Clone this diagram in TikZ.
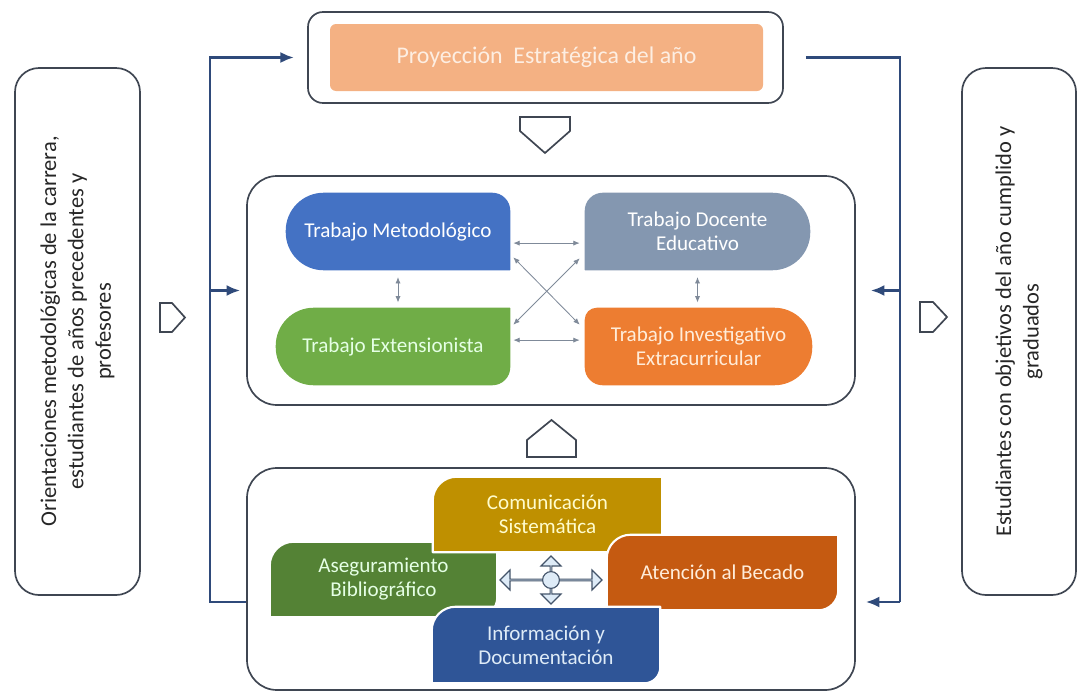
\documentclass[tikz,border=0pt]{standalone}
\usepackage{fontspec}
\setmainfont{Carlito}
\usetikzlibrary{shapes, arrows, arrows.meta, positioning, backgrounds, calc}

\definecolor{framegray}{HTML}{3F4652}
\definecolor{navy}{HTML}{2F4A7A}
\definecolor{linkgray}{HTML}{7F8A99}
\definecolor{proyfill}{HTML}{F4B183}
\definecolor{proytext}{HTML}{FDEEE2}
\definecolor{metblue}{HTML}{4472C4}
\definecolor{docgray}{HTML}{8497B0}
\definecolor{extgreen}{HTML}{70AD47}
\definecolor{invorange}{HTML}{ED7D31}
\definecolor{comgold}{HTML}{BF9000}
\definecolor{asegreen}{HTML}{548235}
\definecolor{ateorange}{HTML}{C55A11}
\definecolor{infblue}{HTML}{2F5597}
\definecolor{hubline}{HTML}{44546A}
\definecolor{hubfill}{HTML}{DEEBF7}

% blob: node, radius top left, top right, bottom right, bottom left, style
\newcommand{\blob}[6]{%
  \path[#6] ([xshift=#2]#1.north west) -- ([xshift=-#3]#1.north east)
    arc[start angle=90, end angle=0, radius=#3]
    -- ([yshift=#4]#1.south east)
    arc[start angle=0, end angle=-90, radius=#4]
    -- ([xshift=#5]#1.south west)
    arc[start angle=270, end angle=180, radius=#5]
    -- ([yshift=-#2]#1.north west)
    arc[start angle=180, end angle=90, radius=#2] -- cycle;}

\tikzset{
  frame/.style={draw=framegray, line width=1.2pt, rounded corners=0.75cm},
  sidebox/.style={draw=framegray, line width=1.2pt, rounded corners=0.6cm,
    rotate=90, align=center, text=black!85, font=\fontsize{16}{19.5}\selectfont},
  blobtext/.style={align=center, inner sep=0pt, font=\fontsize{15}{17}\selectfont},
  fb/.style={draw=navy, line width=2pt},
  link/.style={draw=linkgray, line width=0.6pt, {Latex[length=1.6mm, width=1.3mm]}-{Latex[length=1.6mm, width=1.3mm]}},
  pent/.style={draw=framegray, line width=1.2pt, fill=white, line join=miter},
  cross/.style={double arrow, draw=hubline, fill=hubfill, line width=0.8pt,
    inner sep=0pt, minimum width=0.5cm, double arrow head extend=0.15cm},
}

\begin{document}
\begin{tikzpicture}[>={Latex[length=3.4mm, width=2.8mm]}]

    \useasboundingbox (0,0) rectangle (26.975,-17.375);

    \node[frame, rounded corners=0.375cm, minimum width=11.875cm, minimum height=2.275cm] at (13.6375,-1.4375) (topbox) {};
    \node[fill=proyfill, rounded corners=0.15cm, minimum width=10.825cm, minimum height=1.675cm,
      text=proytext, font=\fontsize{17}{20}\selectfont] at (13.6625,-1.4375) (proy) {Proyección\ \ Estratégica del año};

    \node[frame, minimum width=15.2cm, minimum height=5.725cm] at (13.775,-7.2625) (midbox) {};
    \node[frame, minimum width=15.2cm, minimum height=5.55cm] at (13.775,-14.475) (lowbox) {};

    \node[sidebox, minimum width=13.175cm, minimum height=3.125cm] at (1.9375,-8.2875) (inputs)
      {Orientaciones metodológicas de la carrera,\\ estudiantes de años precedentes y\\ profesores};
    \node[sidebox, minimum width=13.175cm, minimum height=2.85cm] at (25.475,-8.2875) (outputs)
      {Estudiantes con objetivos del año cumplido y\\ graduados};

    % pentagon arrows
    \draw[pent] (13,-2.925) -- (14.25,-2.925) -- (14.25,-3.275) -- (13.625,-3.825) -- (13,-3.275) -- cycle;
    \draw[pent] (13.175,-11.425) -- (14.4,-11.425) -- (14.4,-11) -- (13.7875,-10.5) -- (13.175,-11) -- cycle;
    \draw[pent] (4,-7.575) -- (4.3,-7.575) -- (4.625,-7.9375) -- (4.3,-8.3) -- (4,-8.3) -- cycle;
    \draw[pent] (23,-7.55) -- (23.325,-7.55) -- (23.675,-7.925) -- (23.325,-8.3) -- (23,-8.3) -- cycle;

    \node[blobtext, text=white, minimum width=5.6cm, minimum height=1.925cm] at (9.95,-5.7875) (met) {Trabajo Metodológico};
    \node[blobtext, text=white, minimum width=5.625cm, minimum height=1.925cm] at (17.4375,-5.7875) (doc) {Trabajo Docente\\ Educativo};
    \node[blobtext, text=green!10, minimum width=5.85cm, minimum height=1.925cm] at (9.825,-8.6625) (ext) {Trabajo Extensionista};
    \node[blobtext, text=orange!15, minimum width=5.675cm, minimum height=1.925cm] at (17.4625,-8.6625) (inv) {Trabajo Investigativo\\ Extracurricular};

    \node[blobtext, text=yellow!20, minimum width=5.725cm, minimum height=1.875cm] at (13.6875,-12.8625) (com) {Comunicación\\ Sistemática};
    \node[blobtext, text=green!10, minimum width=5.675cm, minimum height=1.875cm] at (9.5875,-14.4875) (ase) {Aseguramiento\\ Bibliográfico};
    \node[blobtext, text=orange!15, minimum width=5.775cm, minimum height=1.875cm] at (18.0625,-14.3125) (ate) {Atención al Becado};
    \node[blobtext, text=hubfill, minimum width=5.7cm, minimum height=1.9cm] at (13.65,-16.125) (inf) {Información y\\ Documentación};

    \begin{scope}[on background layer]
    \blob{met}{0.95cm}{0.45cm}{0.01cm}{0.95cm}{fill=metblue}
    \blob{doc}{0.45cm}{0.95cm}{0.95cm}{0.01cm}{fill=docgray}
    \blob{ext}{0.95cm}{0.01cm}{0.45cm}{0.95cm}{fill=extgreen}
    \blob{inv}{0.3cm}{0.95cm}{0.95cm}{0.45cm}{fill=invorange}
    \blob{ase}{0.6cm}{0.01cm}{0.5cm}{0.01cm}{fill=asegreen, draw=white, line width=1.5pt}
    \blob{com}{0.6cm}{0.01cm}{0.3cm}{0.01cm}{fill=comgold, draw=white, line width=1.5pt}
    \blob{ate}{0.6cm}{0.01cm}{0.5cm}{0.01cm}{fill=ateorange, draw=white, line width=1.5pt}
    \blob{inf}{0.6cm}{0.01cm}{0.4cm}{0.01cm}{fill=infblue, draw=white, line width=1.5pt}
    \end{scope}

    \draw[link] ([xshift=0.075cm, yshift=-0.29cm]met.east) -- ([xshift=-0.125cm, yshift=-0.29cm]doc.west);
    \draw[link] ([xshift=0.075cm, yshift=0.16cm]ext.east) -- ([xshift=-0.125cm, yshift=0.16cm]inv.west);
    \draw[link] ([yshift=-0.17cm]met.south) -- ([yshift=0.13cm]met.south |- ext.north);
    \draw[link] ([yshift=-0.17cm]doc.south) -- ([yshift=0.13cm]doc.south |- inv.north);
    \draw[link] ([xshift=0.075cm, yshift=0.325cm]met.south east) -- ([xshift=-0.125cm, yshift=-0.425cm]inv.north west);
    \draw[link] ([xshift=0.075cm, yshift=-0.425cm]ext.north east) -- ([xshift=-0.125cm, yshift=0.3cm]doc.south west);

    \node[cross, minimum height=2.55cm] at (13.775,-14.5) (harr) {};
    \node[cross, minimum height=1.2cm, rotate=90] at (13.775,-14.5) (varr) {};
    \node[circle, draw=hubline, fill=hubfill, line width=0.8pt, minimum size=0.42cm, inner sep=0pt] at (harr.center) (hub) {};

    \coordinate (lb) at (5.25,-15.05);
    \coordinate (rb) at (22.5,-15.05);
    \draw[fb, ->, shorten >=0.33cm] (lowbox.west |- lb) -- (lb) |- (topbox.west);
    \draw[fb, ->, shorten >=0.15cm] (lb |- midbox.west) -- (midbox.west);
    \draw[fb] ([xshift=0.55cm]topbox.east) -| (rb);
    \draw[fb, ->, shorten >=0.375cm] (rb |- midbox.east) -- (midbox.east);
    \draw[fb, ->, shorten >=0.25cm] (rb) -- (lowbox.east |- rb);

\end{tikzpicture}
\end{document}
